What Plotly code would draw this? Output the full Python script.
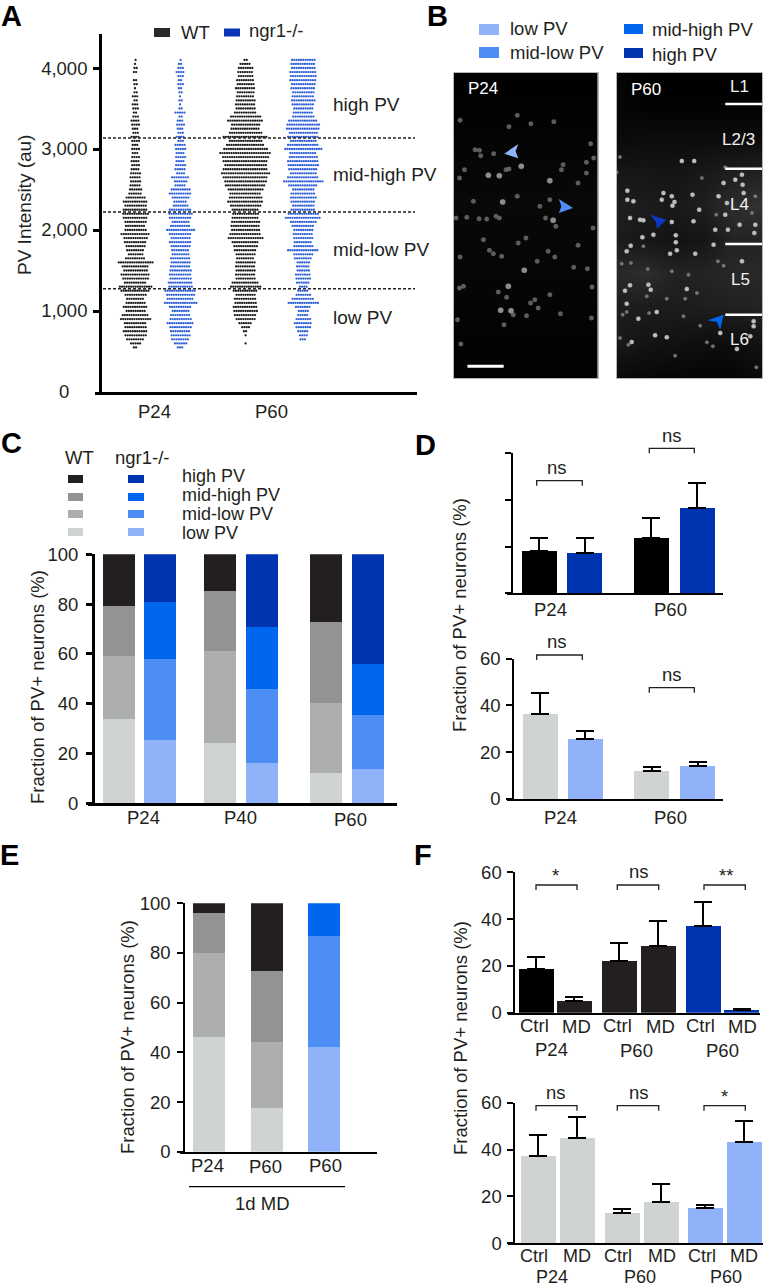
import plotly.graph_objects as go

W, H = 766, 1288
FONT = "Liberation Sans"
INK = "#231f20"

# ---------- Panel A: swarm rows (row counts at each intensity level)
swarm_levels = list(range(550, 4150, 50))
wt_p24_counts = [2,5,8,10,11,10,10,14,12,9, 11,9,8,10,13,15,10,12,13,11,
                 12,16,9,7,8,9,10,11,13,10, 9,10,11,12,11,10,11,9,6,6,
                 5,5,5,5,4,4,4,4,3,4, 3,4,4,3,3,4,4,3,2,3,
                 3,2,3,2,1,2,2,0,2,2, 1,1]
ngr_p24_counts = [3,6,8,9,9,10,12,10,9,8, 10,15,12,13,14,11,11,10,10,10,
                  9,9,9,8,8,9,10,9,10,13, 9,8,10,11,10,7,6,8,10,9,
                  5,6,8,4,5,5,4,5,4,5, 5,3,4,3,3,4,3,2,5,2,
                  1,2,1,2,2,3,2,3,4,3, 2,1]
wt_p60_counts = [0,1,0,1,2,4,6,9,10,11, 11,10,10,9,11,14,12,9,9,9,
                 9,9,8,9,10,11,12,16,14,13, 13,13,12,12,12,14,16,15,14,16,
                 18,19,20,22,20,19,20,21,23,20, 17,15,20,15,13,13,16,14,10,9,
                 9,9,8,8,9,8,8,7,7,7, 5,2]
ngr_p60_counts = [0,0,3,4,5,7,8,7,5,5, 7,14,10,7,5,4,6,7,7,6,
                  6,6,8,9,14,9,8,9,9,9, 10,12,16,14,11,10,11,12,11,10,
                  13,18,14,12,13,14,14,13,12,17, 14,12,14,13,15,15,13,10,9,9,
                  10,11,10,10,11,11,12,12,12,11, 11,11]
pv_cutoffs = [1275, 2222, 3136]

# ---------- Panel C: stacked fractions
c_low     = [33.7, 25.3, 24.1, 16.2, 12.3, 13.8]
c_midlow  = [25.6, 32.7, 37.1, 29.6, 27.9, 21.5]
c_midhigh = [20.0, 22.7, 24.1, 25.2, 32.5, 20.7]
c_high    = [21.1, 19.7, 14.9, 29.7, 27.3, 44.0]

# ---------- Panel D
d_top_vals = [18.0, 17.1, 23.9, 36.4]
d_top_errs = [5.6, 6.5, 8.5, 10.7]
d_bot_vals = [36.3, 25.8, 11.8, 14.1]
d_bot_errs = [9.1, 3.2, 1.7, 1.7]

# ---------- Panel E
e_low     = [46.3, 17.4, 42.0]
e_midlow  = [33.8, 26.9, 45.0]
e_midhigh = [15.9, 28.6, 13.0]
e_high    = [4.0, 27.1, 0.3]

# ---------- Panel F
f_top_vals = [18.7, 5.1, 22.2, 28.3, 37.0, 1.0]
f_top_errs = [5.3, 1.7, 7.4, 10.7, 10.3, 0.6]
f_bot_vals = [37.3, 45.0, 12.8, 17.7, 15.1, 43.4]
f_bot_errs = [9.1, 9.1, 1.7, 7.4, 1.4, 9.0]

# ---------- Panel B: cell positions in the field of view
p24_dim = [(262,347),(237,381),(303,372),(90,362),(372,366),(483,432),(148,452),(135,450),(152,468),(191,462),
           (237,508),(228,510),(103,510),(88,535),(400,495),(395,510),(470,488),(492,475),(445,550),(470,520),
           (262,590),(130,605),(330,620),(360,600),(78,655),(110,653),(147,657),(170,658),(198,650),(208,655),
           (347,655),(378,680),(490,685),(160,720),(288,715),(265,730),(445,737),(178,752),(190,762),(90,772),
           (215,770),(322,785),(375,772),(355,755),(432,803),(473,807),(88,865),(100,860),(205,877),(230,893),
           (487,862),(315,900),(302,910),(360,885),(250,945),(290,948),(325,925),(392,942),(82,960),(485,955),
           (222,975),(92,1033)]
p24_bright = [(274,500),(175,527),(208,528),(360,543),(218,607),(370,662),(283,812),(235,860),(212,932),(243,933)]
p60_dim = [(570,472),(560,518),(815,535),(885,503),(858,645),(965,640),(975,590),(863,785),(880,798),(575,792),
           (603,790),(653,808),(725,815),(775,825),(650,890),(710,897),(765,897),(800,880),(578,945),(590,937),
           (657,940),(760,950),(810,978),(570,1015),(830,1028),(848,1040),(735,1068),(978,1103),(595,1035),(640,740)]
p60_bright = [(755,484),(792,484),(880,550),(915,540),(935,525),(937,555),(940,580),(592,573),(592,600),(610,605),
              (700,580),(725,590),(733,607),(695,600),(727,618),(787,585),(807,630),(865,590),(890,610),(885,645),
              (600,655),(630,660),(640,662),(725,667),(790,665),(975,675),(928,675),(893,690),(855,690),(972,700),
              (670,705),(637,713),(737,707),(737,728),(602,738),(590,755),(740,752),(720,762),(795,762),(850,735),
              (935,785),(655,855),(600,857),(585,873),(662,870),(770,868),(590,912),(625,957),(680,937),(870,1000),
              (970,965),(970,980),(675,1007),(605,1027),(710,1013),(920,1048),(960,1010)]
glow_x = [561, 648, 735, 822, 909, 995]
glow_y = [220, 320, 420, 520, 620, 720, 820, 920, 1020, 1135]
p60_glow = [[5,0,0,0,0,0],[6,2,2,2,2,2],[10,12,12,12,12,12],[22,22,20,25,30,35],[30,28,25,30,45,50],
            [28,22,18,22,35,35],[40,45,35,35,40,40],[30,28,28,30,32,35],[25,20,18,15,15,20],[10,8,5,5,5,10]]
glow24_x = [70, 505]
glow24_y = [220, 600, 1135]
p24_glow = [[0,0],[8,8],[2,2]]

# ---------- Colours
GREYS = {"low": "#d0d3d4", "midlow": "#adaeb0", "midhigh": "#939393", "high": "#231f20"}
BLUES = {"low": "#8fb2f8", "midlow": "#4d8ef5", "midhigh": "#0066ee", "high": "#0033b0"}

fig = go.Figure()
layout = {}
annotations = []
shapes = []


def T(x, y, s, size=18.5, anchor="center", color=INK, bold=False, angle=0):
    annotations.append(dict(xref="paper", yref="paper", x=x / W, y=1 - y / H, text=f"<b>{s}</b>" if bold else s,
                            showarrow=False, xanchor=anchor, yanchor="middle", textangle=angle,
                            font=dict(family=FONT, size=size, color=color)))


def R(x0, y0, x1, y1, color):
    shapes.append(dict(type="rect", xref="paper", yref="paper", x0=x0 / W, x1=x1 / W, y0=1 - y0 / H, y1=1 - y1 / H,
                       fillcolor=color, line=dict(width=0)))


def L(pts, width=1.5, color=INK):
    path = "M" + " L".join(f"{x / W:.5f},{1 - y / H:.5f}" for x, y in pts)
    shapes.append(dict(type="path", xref="paper", yref="paper", path=path, line=dict(width=width, color=color)))


def axes(n, x0, x1, top, bot, yr, ticks, axis_x, lw=2.5, labels=True, ticktext=None, standoff=3):
    s = "" if n == 1 else str(n)
    layout[f"xaxis{s}"] = dict(domain=[x0 / W, x1 / W], range=[x0, x1], anchor=f"y{s}", showline=True,
                               linecolor="#000", linewidth=lw, showgrid=False, zeroline=False,
                               showticklabels=False, ticks="", fixedrange=True)
    layout[f"yaxis{s}"] = dict(domain=[1 - bot / H, 1 - top / H], range=yr, anchor="free", position=axis_x / W,
                               overlaying=None, showline=True, linecolor="#000", linewidth=lw, showgrid=False,
                               zeroline=False, ticks="outside", ticklen=6, tickwidth=lw, tickcolor="#000",
                               tickvals=ticks, ticktext=ticktext, showticklabels=labels,
                               ticklabelstandoff=standoff,
                               tickfont=dict(family=FONT, size=18.5, color=INK), fixedrange=True)


def image_axes(n, x0, x1, top, bot, xr, yr):
    layout[f"xaxis{n}"] = dict(domain=[x0 / W, x1 / W], range=xr, anchor=f"y{n}", showline=True, mirror=True,
                               linecolor="#b5b5b5", linewidth=1, showgrid=False, zeroline=False,
                               showticklabels=False, ticks="", fixedrange=True)
    layout[f"yaxis{n}"] = dict(domain=[1 - bot / H, 1 - top / H], range=yr, anchor=f"x{n}", showline=True, mirror=True,
                               linecolor="#b5b5b5", linewidth=1, showgrid=False, zeroline=False,
                               showticklabels=False, ticks="", fixedrange=True)


def ax(n):
    return ("x" if n == 1 else f"x{n}", "y" if n == 1 else f"y{n}")


def swarm(counts, center, color):
    xs, ys = [], []
    for row, (level, c) in enumerate(zip(swarm_levels, counts)):
        for i in range(c):
            xs.append(center + (i - (c - 1) / 2) * 2.25 + (row % 2) * 0.6)
            ys.append(level)
    fig.add_trace(go.Scatter(x=xs, y=ys, mode="markers", xaxis="x", yaxis="y", showlegend=False, hoverinfo="skip",
                             marker=dict(size=2.3, color=color, line=dict(width=0))))


def bars(n, xs, width, vals, colors, errs=None):
    xa, ya = ax(n)
    kw = {}
    if errs is not None:
        kw["error_y"] = dict(type="data", symmetric=False, array=errs, arrayminus=[0] * len(errs),
                             thickness=2, width=9, color="#000")
    fig.add_trace(go.Bar(x=xs, y=vals, width=width, xaxis=xa, yaxis=ya, marker=dict(color=colors, line=dict(width=0)),
                         showlegend=False, hoverinfo="skip", cliponaxis=False, **kw))


def bracket(x0, x1, ytop, drop=5):
    L([(x0, ytop + drop), (x0, ytop), (x1, ytop), (x1, ytop + drop)], width=1.3)


# ---------- A
axes(1, 95, 417, 34, 392, [0, 4420], [1000, 2000, 3000, 4000], 100, lw=2.7, standoff=2,
     ticktext=["1,000", "2,000", "3,000", "4,000"])
swarm(wt_p24_counts, 135, "#1c1c1c")
swarm(ngr_p24_counts, 180, "#2f5fd6")
swarm(wt_p60_counts, 245, "#1c1c1c")
swarm(ngr_p60_counts, 302.7, "#2f5fd6")
for c in pv_cutoffs:
    shapes.append(dict(type="line", xref="x", yref="y", x0=103, x1=415, y0=c, y1=c,
                       line=dict(color="#222", width=1.4, dash="3px,2px")))
T(24, 205, "PV Intensity (au)", angle=-90, size=19)
T(64, 391, "0")
T(154, 411, "P24")
T(271, 411, "P60")
for y, s in zip([104, 174, 249, 317], ["high PV", "mid-high PV", "mid-low PV", "low PV"]):
    T(331, y, s, anchor="left", size=19)
R(154, 28, 170, 37, "#2a2a2a")
R(224, 28.5, 240, 36.5, "#0a35b5")
T(179, 32, "WT", anchor="left")
T(247, 31, "ngr1-/-", anchor="left")

# ---------- B
image_axes(2, 453.5, 598, 73, 378, [70, 505], [1135, 220])
image_axes(3, 617, 762, 73, 378, [561, 995], [1135, 220])
fig.add_trace(go.Heatmap(x=glow24_x, y=glow24_y, z=p24_glow, zsmooth="best", zmin=0, zmax=255, showscale=False,
                         colorscale=[[0, "#000"], [1, "#fff"]], xaxis="x2", yaxis="y2", hoverinfo="skip"))
fig.add_trace(go.Heatmap(x=glow_x, y=glow_y, z=p60_glow, zsmooth="best", zmin=0, zmax=255, showscale=False,
                         colorscale=[[0, "#000"], [1, "#fff"]], xaxis="x3", yaxis="y3", hoverinfo="skip"))


def cells(pts, n, size, color):
    xa, ya = ax(n)
    fig.add_trace(go.Scatter(x=[p[0] for p in pts], y=[p[1] for p in pts], mode="markers", xaxis=xa, yaxis=ya,
                             showlegend=False, hoverinfo="skip",
                             marker=dict(size=size, color=color, opacity=0.9, line=dict(width=1, color="rgba(150,150,150,0.25)"))))


cells(p24_dim, 2, 4.5, "#666666")
cells(p24_bright, 2, 5.5, "#9c9c9c")
cells(p60_dim, 3, 3.5, "#808080")
cells(p60_bright, 3, 4.5, "#d0d0d0")


def arrow(n, xs, ys, color):
    xa, ya = ax(n)
    fig.add_trace(go.Scatter(x=xs, y=ys, mode="lines", fill="toself", fillcolor=color, line=dict(width=0),
                             xaxis=xa, yaxis=ya, showlegend=False, hoverinfo="skip"))


arrow(2, [223, 265, 257, 265, 223], [462, 433, 455, 476, 462], BLUES["low"])
arrow(2, [430, 387, 395, 387, 430], [625, 598, 620, 640, 625], BLUES["midlow"])
arrow(3, [660, 708, 680, 678, 660], [645, 660, 688, 667, 645], "#0a3ac0")
arrow(3, [832, 880, 870, 860, 832], [962, 945, 990, 967, 962], BLUES["midhigh"])
for y in [313, 507, 733, 945]:
    shapes.append(dict(type="line", xref="x3", yref="y3", x0=885, x1=995, y0=y, y1=y, line=dict(color="#fff", width=2.5)))
shapes.append(dict(type="line", xref="x2", yref="y2", x0=112, x1=221, y0=1100, y1=1100, line=dict(color="#fff", width=3)))
T(483, 88, "P24", size=17, color="#fff")
T(646, 89, "P60", size=17, color="#fff")
for x, y, s in [(739, 86, "L1"), (738, 139, "L2/3"), (739, 204, "L4"), (740, 280, "L5"), (739, 339, "L6")]:
    T(x, y, s, size=17, color="#f2f2f2")
R(479, 24, 499, 35, BLUES["low"])
R(479, 47, 499, 58, BLUES["midlow"])
R(624, 24, 643, 34, BLUES["midhigh"])
R(624, 48, 643, 58, BLUES["high"])
T(508, 29, "low PV", anchor="left")
T(508, 52, "mid-low PV", anchor="left")
T(650, 30, "mid-high PV", anchor="left")
T(650, 55, "high PV", anchor="left")

# ---------- C
c_pos = [119, 160, 220, 262, 326, 367.5]
axes(4, 88, 397, 554.3, 803.3, [0, 100], [0, 20, 40, 60, 80, 100], 92.7, lw=2.5, standoff=4)
wt_blue = lambda k: [GREYS[k], BLUES[k]] * 3
for vals, k in [(c_low, "low"), (c_midlow, "midlow"), (c_midhigh, "midhigh"), (c_high, "high")]:
    bars(4, c_pos, 32, vals, wt_blue(k))
T(37, 687, "Fraction of PV+ neurons (%)", angle=-90)
for x, y, s in [(143, 818, "P24"), (240, 817, "P40"), (350, 819, "P60")]:
    T(x, y, s)
T(79, 457, "WT")
T(142, 457, "ngr1-/-")
for yc, yt, s, k in [(479, 476, "high PV", "high"), (497, 495, "mid-high PV", "midhigh"),
                     (514, 514, "mid-low PV", "midlow"), (532, 533, "low PV", "low")]:
    R(68, yc - 4, 83, yc + 4, GREYS[k])
    R(128, yc - 4, 144, yc + 4, BLUES[k])
    T(180, yt, s, anchor="left", size=18)

# ---------- D
d_pos = [539, 584.5, 651, 697]
axes(5, 507, 723, 453.3, 593.3, [0, 60], [0, 20, 40, 60], 511.7, lw=2, labels=False)
bars(5, d_pos, 35, d_top_vals, ["#000", BLUES["high"], "#000", BLUES["high"]], d_top_errs)
T(550, 609, "P24")
T(670, 609, "P60")
bracket(536.7, 582.3, 480.7)
bracket(649.3, 694.3, 448.3)
T(557.3, 467.7, "ns")
T(671.7, 435.7, "ns")

d2_pos = [540, 585, 651.5, 697.7]
axes(6, 507, 723, 658.7, 799, [0, 60], [0, 20, 40, 60], 513.3, lw=2, standoff=2)
bars(6, d2_pos, 35, d_bot_vals, [GREYS["low"], BLUES["low"], GREYS["low"], BLUES["low"]], d_bot_errs)
T(560, 817, "P24")
T(670, 817, "P60")
bracket(536.7, 582.3, 655)
bracket(649.3, 694.3, 687.7)
T(557.3, 641.7, "ns")
T(671.7, 675, "ns")
T(459, 615, "Fraction of PV+ neurons (%)", angle=-90)

# ---------- E
e_pos = [209, 267, 324]
axes(7, 180, 377, 903.3, 1151.7, [0, 100], [0, 20, 40, 60, 80, 100], 184.3, lw=2, standoff=3)
for vals, k in [(e_low, "low"), (e_midlow, "midlow"), (e_midhigh, "midhigh"), (e_high, "high")]:
    bars(7, e_pos, 32, vals, [GREYS[k], GREYS[k], BLUES[k]])
T(127, 1037, "Fraction of PV+ neurons (%)", angle=-90)
T(207, 1165, "P24")
T(265, 1166, "P60")
T(325, 1165, "P60")
L([(189, 1186.7), (345, 1186.7)], width=1.2, color="#000")
T(262, 1203, "1d MD")

# ---------- F
f_pos = [536, 574.3, 619.3, 658.3, 703, 741.5]
axes(8, 508, 760, 872.3, 1012.7, [0, 60], [0, 20, 40, 60], 514.3, lw=1.8, standoff=2)
bars(8, f_pos, 35, f_top_vals, ["#000", INK, INK, INK, BLUES["high"], BLUES["high"]], f_top_errs)
for x, y, s in [(534, 1025, "Ctrl"), (576, 1026, "MD"), (617, 1025, "Ctrl"), (660, 1026, "MD"), (700, 1025, "Ctrl"), (742, 1026, "MD"),
                (551, 1049, "P24"), (636, 1050, "P60"), (722, 1050, "P60")]:
    T(x, y, s)
bracket(536, 577, 885)
bracket(617.3, 658.7, 885)
bracket(704, 745.3, 885)
T(555.7, 875, "*")
T(639, 872, "ns")
T(726, 875, "**")

f2_pos = [538, 577, 622, 661, 705, 744]
axes(9, 508, 763, 1102.7, 1243.3, [0, 60], [0, 20, 40, 60], 514.3, lw=1.8, standoff=2)
bars(9, f2_pos, 35, f_bot_vals, [GREYS["low"]] * 4 + [BLUES["low"]] * 2, f_bot_errs)
for x, y, s in [(534, 1256, "Ctrl"), (577, 1256, "MD"), (618, 1256, "Ctrl"), (662, 1256, "MD"), (702, 1256, "Ctrl"), (744, 1256, "MD"),
                (552, 1276.5, "P24"), (640, 1276.5, "P60"), (726, 1276.5, "P60")]:
    T(x, y, s, size=18)
bracket(536, 577, 1105.7)
bracket(617.3, 658.7, 1105.7)
bracket(704, 745.3, 1105.7)
T(555.7, 1092.7, "ns")
T(639, 1092.7, "ns")
T(724.3, 1096, "*")
T(460, 1038, "Fraction of PV+ neurons (%)", angle=-90)

# ---------- Panel letters
for x, y, s in [(12, 16, "A"), (437, 16, "B"), (12, 443, "C"), (425, 445, "D"), (9, 855, "E"), (423, 855, "F")]:
    T(x, y, s, size=29, color="#000", bold=True)

fig.update_layout(width=W, height=H, margin=dict(l=0, r=0, t=0, b=0, autoexpand=False), paper_bgcolor="#fff", plot_bgcolor="#fff",
                  barmode="stack", showlegend=False, annotations=annotations, shapes=shapes,
                  font=dict(family=FONT, color=INK), **layout)
fig.write_html("out.html", config={"displayModeBar": False},
               post_script="document.body.style.margin='0';document.documentElement.style.overflow='hidden';")
